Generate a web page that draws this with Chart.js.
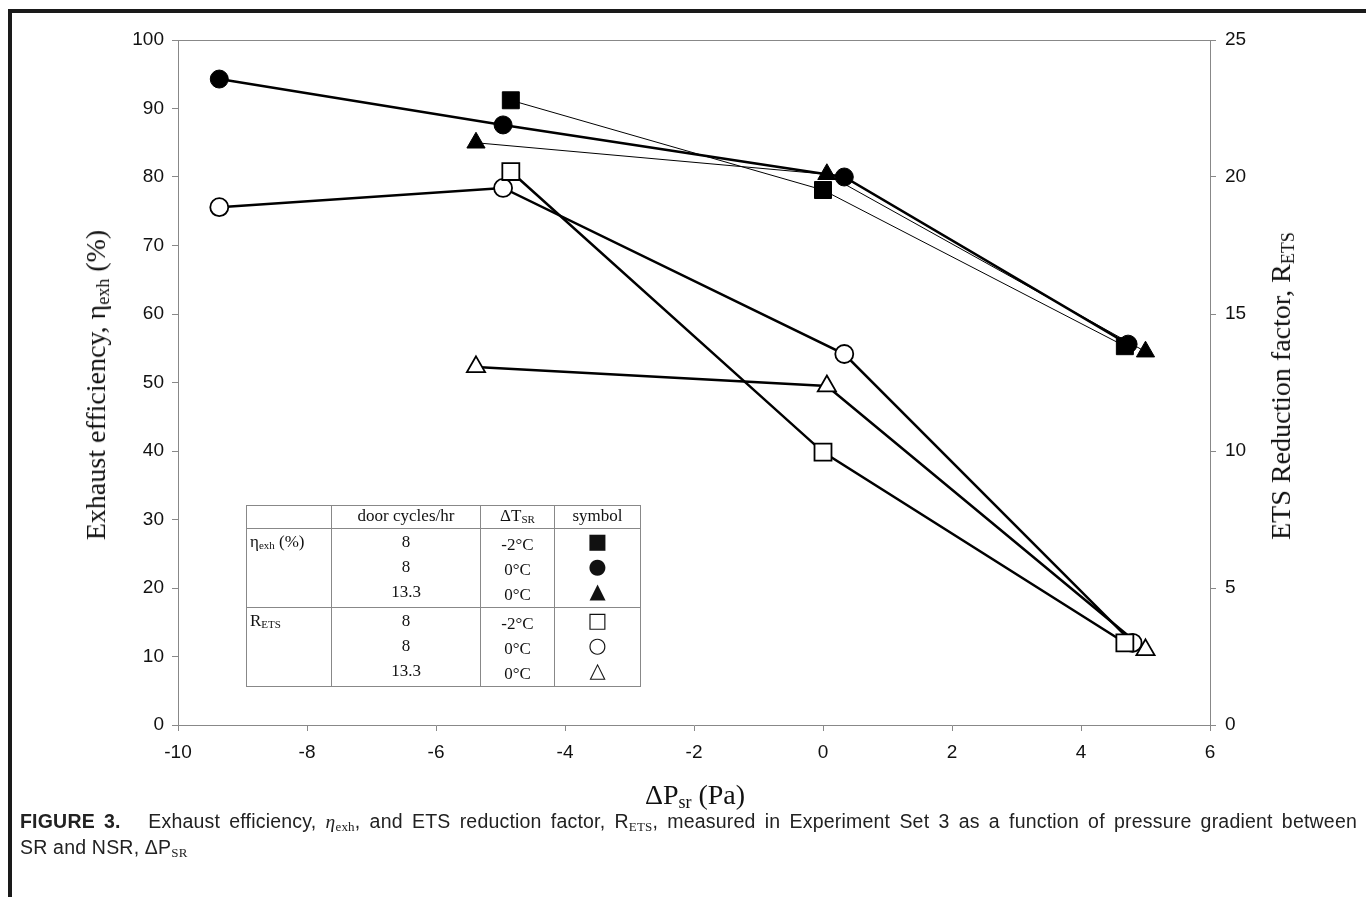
<!DOCTYPE html>
<html>
<head>
<meta charset="utf-8">
<script src="https://cdn.jsdelivr.net/npm/chart.js@4.4.1/dist/chart.umd.min.js"></script>
<style>
  body { margin: 0; background: #fff; }
  #wrap { position: relative; width: 1366px; height: 897px; overflow: hidden; }
  #chart { position: absolute; left: 0; top: 0; }
  .frameTop { position: absolute; left: 8px; top: 9px; width: 1358px; height: 4px; background: #1a1a1a; }
  .frameLeft { position: absolute; left: 8px; top: 9px; width: 4px; height: 888px; background: #1a1a1a; }
  .serif { font-family: "Liberation Serif", "DejaVu Serif", serif; color: #111; }
  .ytitle { position: absolute; white-space: nowrap; font-size: 28px; transform: translate(-50%, -50%) rotate(-90deg); }
  .ytitle sub, .xtitle sub { font-size: 18px; vertical-align: -4px; }
  .xtitle { position: absolute; white-space: nowrap; font-size: 28px; transform: translate(-50%, -50%); }
  #legendTable { position: absolute; left: 246px; top: 505px; border-collapse: collapse; font-size: 17px; }
  #legendTable td { border: 1px solid #888; padding: 0; vertical-align: top; }
  #legendTable .c { text-align: center; }
  #legendTable .sym { font-family: "DejaVu Sans", sans-serif; font-size: 21px; line-height: 25px; }
  #legendTable sub { font-size: 11px; vertical-align: -2px; }
  .caption { position: absolute; left: 20px; width: 1337px; font-family: "Liberation Sans", Arial, sans-serif; font-size: 19.5px; letter-spacing: 0.2px; line-height: 26px; color: #222; white-space: nowrap; }
  .caption.first { top: 808px; text-align: justify; text-align-last: justify; white-space: normal; }
  .caption.second { top: 834px; }
  .caption sub { font-size: 13px; vertical-align: -3px; font-family: "Liberation Serif", serif; }
  .caption i { font-family: "Liberation Serif", serif; }
</style>
</head>
<body>
<div id="wrap">
  <canvas id="chart" width="1366" height="810"></canvas>
  <div class="frameTop"></div>
  <div class="frameLeft"></div>

  <div class="serif ytitle" style="left:97px; top:385px;">Exhaust efficiency, &eta;<sub>exh</sub> (%)</div>
  <div class="serif ytitle" style="left:1282px; top:386px;">ETS Reduction factor, R<sub>ETS</sub></div>
  <div class="serif xtitle" style="left:695px; top:796px;">&Delta;P<sub>sr</sub> (Pa)</div>

  <table id="legendTable" class="serif">
    <tr style="height:23px;">
      <td style="width:84px;"></td>
      <td class="c" style="width:148px;">door cycles/hr</td>
      <td class="c" style="width:73px;">&Delta;T<sub>SR</sub></td>
      <td class="c" style="width:85px;">symbol</td>
    </tr>
    <tr style="height:76px;">
      <td style="padding-left:3px; padding-top:3px;">&eta;<sub>exh</sub> (%)</td>
      <td class="c" style="line-height:25px;">8<br>8<br>13.3</td>
      <td class="c" style="line-height:25px; padding-top:3px;">-2&deg;C<br>0&deg;C<br>0&deg;C</td>
      <td class="c sym">&#9632;<br>&#9679;<br>&#9650;</td>
    </tr>
    <tr style="height:77px;">
      <td style="padding-left:3px; padding-top:3px;">R<sub>ETS</sub></td>
      <td class="c" style="line-height:25px;">8<br>8<br>13.3</td>
      <td class="c" style="line-height:25px; padding-top:3px;">-2&deg;C<br>0&deg;C<br>0&deg;C</td>
      <td class="c sym">&#9633;<br>&#9675;<br>&#9651;</td>
    </tr>
  </table>

  <div class="caption first"><b>FIGURE 3.</b>&nbsp;&nbsp; Exhaust efficiency, <i>&eta;</i><sub>exh</sub>, and ETS reduction factor, R<sub>ETS</sub>, measured in Experiment Set 3 as a function of pressure gradient between</div>
  <div class="caption second">SR and NSR, &Delta;P<sub>SR</sub></div>
</div>

<script>
// pressure difference (Pa) and exhaust efficiency (%) - filled symbols, left axis
const dpSqFilled = [-4.84, 0.0, 4.68];
const etaSqFilled = [91.2, 78.1, 55.3];

const dpCirFilled = [-9.36, -4.96, 0.33, 4.73];
const etaCirFilled = [94.3, 87.6, 80.0, 55.6];

const dpTriFilled = [-5.38, 0.06, 5.0];
const etaTriFilled = [85.0, 80.4, 54.5];

// ETS reduction factor - open symbols, right axis
const dpSqOpen = [-4.84, 0.0, 4.68];
const retsSqOpen = [20.2, 9.96, 3.0];

const dpCirOpen = [-9.36, -4.96, 0.33, 4.8];
const retsCirOpen = [18.9, 19.6, 13.54, 3.0];

const dpTriOpen = [-5.38, 0.06, 5.0];
const retsTriOpen = [13.07, 12.37, 2.74];

const xTicks = [-10, -8, -6, -4, -2, 0, 2, 4, 6];
const leftTicks = [0, 10, 20, 30, 40, 50, 60, 70, 80, 90, 100];
const rightTicks = [0, 5, 10, 15, 20, 25];

function toPoints(xs, ys) {
  return xs.map((x, i) => ({ x: x, y: ys[i] }));
}

function series(xs, ys, axis, style, radius, filled, lineWidth) {
  return {
    data: toPoints(xs, ys),
    yAxisID: axis,
    showLine: true,
    borderColor: "#000",
    borderWidth: lineWidth,
    pointStyle: style,
    pointRadius: radius,
    pointBackgroundColor: filled ? "#000" : "#fff",
    pointBorderColor: "#000",
    pointBorderWidth: filled ? 1 : 1.8,
    fill: false,
  };
}

// top border of the plot area
const frameTop = {
  id: "frameTop",
  afterDraw(chart) {
    const a = chart.chartArea;
    const ctx = chart.ctx;
    ctx.save();
    ctx.strokeStyle = "#888";
    ctx.lineWidth = 1;
    ctx.beginPath();
    ctx.moveTo(a.left, a.top + 0.5);
    ctx.lineTo(a.right, a.top + 0.5);
    ctx.stroke();
    ctx.restore();
  },
};

const tickFont = { family: "Liberation Sans, Arial, sans-serif", size: 19 };

new Chart(document.getElementById("chart").getContext("2d"), {
  type: "scatter",
  data: {
    datasets: [
      series(dpSqOpen, retsSqOpen, "y2", "rect", 12, false, 2.5),
      series(dpCirOpen, retsCirOpen, "y2", "circle", 9, false, 2.5),
      series(dpTriOpen, retsTriOpen, "y2", "triangle", 10.5, false, 2.5),
      series(dpSqFilled, etaSqFilled, "y", "rect", 12, true, 1),
      series(dpTriFilled, etaTriFilled, "y", "triangle", 10.5, true, 1),
      series(dpCirFilled, etaCirFilled, "y", "circle", 9, true, 2.5),
    ],
  },
  options: {
    responsive: false,
    animation: false,
    devicePixelRatio: 1,
    layout: { padding: { top: 40, left: 0, right: 0, bottom: 0 } },
    plugins: {
      legend: { display: false },
      tooltip: { enabled: false },
    },
    scales: {
      x: {
        type: "linear",
        min: -10,
        max: 6,
        afterFit: (s) => { s.height = 85; },
        afterBuildTicks: (s) => { s.ticks = xTicks.map((v) => ({ value: v })); },
        ticks: { font: tickFont, color: "#111", padding: 10 },
        grid: { drawOnChartArea: false, tickLength: 6, color: "#888" },
        border: { color: "#888", width: 1 },
      },
      y: {
        position: "left",
        min: 0,
        max: 100,
        afterFit: (s) => { s.width = 178; },
        afterBuildTicks: (s) => { s.ticks = leftTicks.map((v) => ({ value: v })); },
        ticks: { font: tickFont, color: "#111", padding: 8 },
        grid: { drawOnChartArea: false, tickLength: 6, color: "#888" },
        border: { color: "#888", width: 1 },
      },
      y2: {
        position: "right",
        min: 0,
        max: 25,
        afterFit: (s) => { s.width = 156; },
        afterBuildTicks: (s) => { s.ticks = rightTicks.map((v) => ({ value: v })); },
        ticks: { font: tickFont, color: "#111", padding: 9 },
        grid: { drawOnChartArea: false, tickLength: 6, color: "#888" },
        border: { color: "#888", width: 1 },
      },
    },
  },
  plugins: [frameTop],
});
</script>
</body>
</html>
